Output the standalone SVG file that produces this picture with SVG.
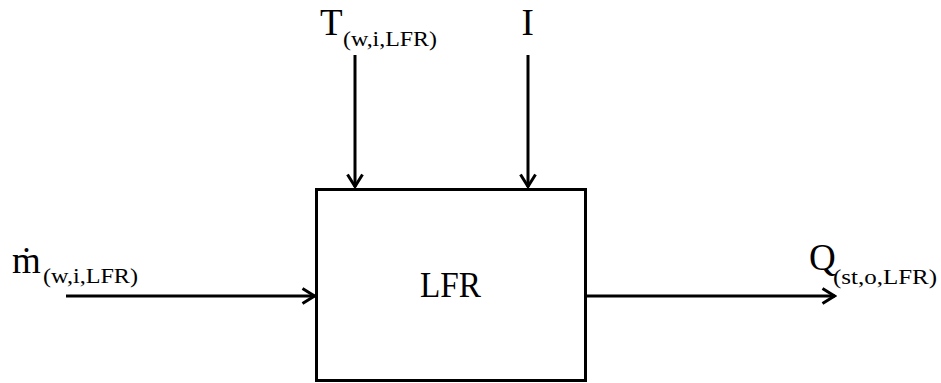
<svg xmlns="http://www.w3.org/2000/svg" width="941" height="383" viewBox="0 0 941 383">
  <style>
    .lbl { font-family: "Liberation Serif", "DejaVu Serif", serif; fill: #000; }
    .main { font-size: 37px; }
    .sub { font-size: 22px; }
    .wire { stroke: #000; stroke-width: 3; fill: none; }
  </style>
  <defs>
    <marker id="arrow" viewBox="0 0 16 18" refX="14.5" refY="9" markerWidth="16" markerHeight="18" markerUnits="userSpaceOnUse" orient="auto">
      <path d="M2,1.5 L14,9 L2,16.5" fill="none" stroke="#000" stroke-width="3"/>
    </marker>
  </defs>
  <rect width="941" height="383" fill="#fff"/>

  <g id="connectors">
    <line class="wire" x1="355" y1="55" x2="355" y2="187" marker-end="url(#arrow)"/>
    <line class="wire" x1="528" y1="55" x2="528" y2="187" marker-end="url(#arrow)"/>
    <line class="wire" x1="66" y1="296" x2="315" y2="296" marker-end="url(#arrow)"/>
    <line class="wire" x1="587" y1="296" x2="835" y2="296" marker-end="url(#arrow)"/>
  </g>

  <g id="lfr">
    <rect x="316.5" y="189.5" width="269" height="191" fill="#fff" stroke="#000" stroke-width="3"/>
    <text class="lbl" x="420" y="297" font-size="36" textLength="61" lengthAdjust="spacingAndGlyphs">LFR</text>
  </g>

  <g id="input-temperature">
    <text class="lbl main" x="320" y="35">T</text>
    <text class="lbl sub" x="343" y="46" textLength="94" lengthAdjust="spacingAndGlyphs">(w,i,LFR)</text>
  </g>

  <g id="input-irradiance">
    <text class="lbl main" x="521.5" y="35">I</text>
  </g>

  <g id="input-massflow">
    <text class="lbl main" x="12" y="273">ṁ</text>
    <text class="lbl sub" x="43" y="283" textLength="95" lengthAdjust="spacingAndGlyphs">(w,i,LFR)</text>
  </g>

  <g id="output-heat">
    <text class="lbl main" x="809" y="270">Q</text>
    <text class="lbl sub" x="833" y="284" textLength="104" lengthAdjust="spacingAndGlyphs">(st,o,LFR)</text>
  </g>
</svg>
